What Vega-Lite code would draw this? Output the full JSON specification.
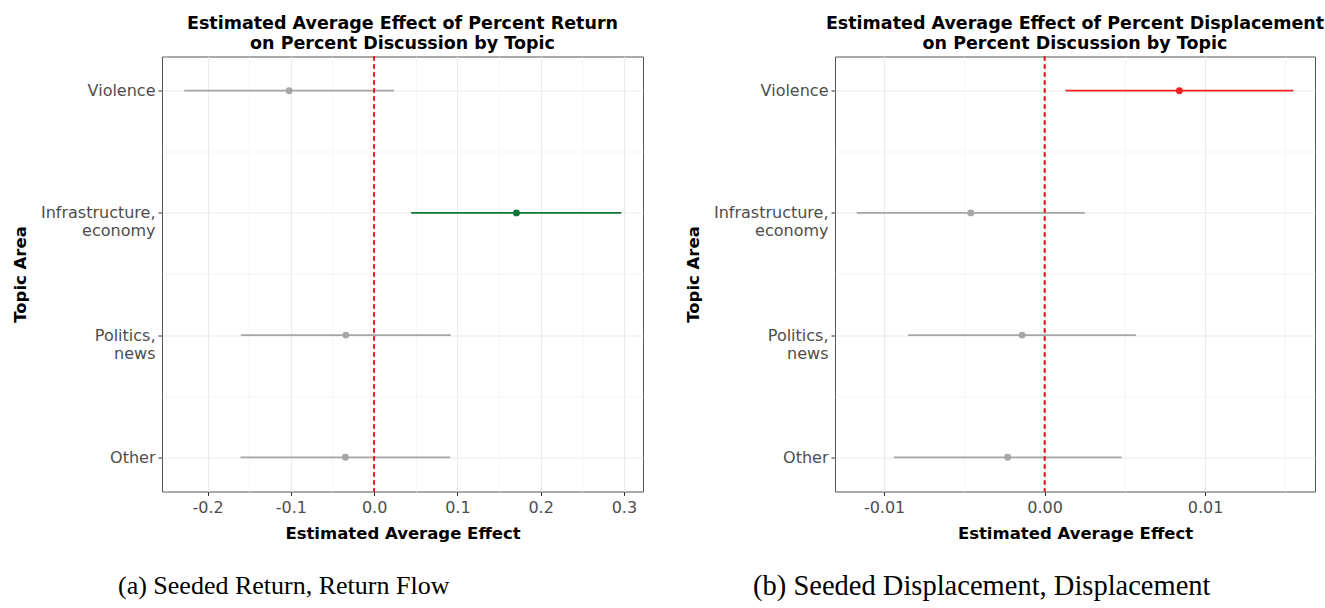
{
  "$schema": "https://vega.github.io/schema/vega-lite/v6.json",
  "background": "white",
  "padding": {"left": 11, "top": 14.5, "right": 0, "bottom": 0},
  "datasets": {
    "ret": [
      {"topic": "Violence", "est": -0.102, "lo": -0.228, "hi": 0.024, "sig": "ns"},
      {"topic": "Infrastructure, economy", "est": 0.171, "lo": 0.0445, "hi": 0.297, "sig": "sig"},
      {"topic": "Politics, news", "est": -0.034, "lo": -0.160, "hi": 0.092, "sig": "ns"},
      {"topic": "Other", "est": -0.0345, "lo": -0.1605, "hi": 0.0915, "sig": "ns"}
    ],
    "disp": [
      {"topic": "Violence", "est": 0.0084, "lo": 0.0013, "hi": 0.0155, "sig": "sig"},
      {"topic": "Infrastructure, economy", "est": -0.0046, "lo": -0.0117, "hi": 0.0025, "sig": "ns"},
      {"topic": "Politics, news", "est": -0.0014, "lo": -0.0085, "hi": 0.0057, "sig": "ns"},
      {"topic": "Other", "est": -0.0023, "lo": -0.0094, "hi": 0.0048, "sig": "ns"}
    ]
  },
  "hconcat": [
    {
      "title": {"text": "(a) Seeded Return, Return Flow", "orient": "bottom", "font": "Liberation Serif", "fontSize": 26, "fontWeight": "normal", "color": "black", "anchor": "middle", "dx": -44, "offset": 30},
      "vconcat": [
        {
          "width": 481,
          "height": 435,
          "title": {"text": ["Estimated Average Effect of Percent Return", "on Percent Discussion by Topic"], "fontSize": 17.5, "fontWeight": "bold", "lineHeight": 20, "anchor": "middle", "offset": 3, "color": "black"},
          "data": {"name": "ret"},
          "layer": [
            {
              "mark": {"type": "rule", "strokeWidth": 1.8},
              "encoding": {
                "x": {"field": "lo", "type": "quantitative", "scale": {"domain": [-0.2548, 0.323], "nice": false, "zero": false},
                  "axis": {"orient": "bottom", "values": [-0.2, -0.1, 0, 0.1, 0.2, 0.3], "labelExpr": "replace(format(datum.value, '.1f'), '−', '-')", "title": "Estimated Average Effect", "grid": true, "gridColor": "#ebebeb", "gridWidth": 1.1, "domain": false, "tickColor": "#333333", "tickSize": 4, "labelFontSize": 16, "labelColor": "#4d4d4d", "labelPadding": 3.5, "labelFlush": false, "labelOverlap": false, "titleFontSize": 16.5, "titleFontWeight": "bold", "titleColor": "black", "titlePadding": 10.5}},
                "x2": {"field": "hi"},
                "y": {"field": "topic", "type": "nominal", "scale": {"type": "point", "domain": ["Violence", "Infrastructure, economy", "Politics, news", "Other"], "padding": 0.28},
                  "axis": {"orient": "left", "grid": true, "gridColor": "#ebebeb", "gridWidth": 1.1, "domain": false, "tickColor": "#333333", "tickSize": 4, "labelFontSize": 16, "labelColor": "#4d4d4d", "labelPadding": 3, "labelLineHeight": 18, "labelExpr": "indexof(datum.label, ', ') > 0 ? [slice(datum.label, 0, indexof(datum.label, ', ') + 1), slice(datum.label, indexof(datum.label, ', ') + 2)] : datum.label", "title": "Topic Area", "titleFontSize": 16.5, "titleFontWeight": "bold", "titleColor": "black", "titlePadding": 12}},
                "color": {"field": "sig", "type": "nominal", "scale": {"domain": ["ns", "sig"], "range": ["#a6a6a6", "#11773a"]}, "legend": null}
              }
            },
            {
              "mark": {"type": "point", "filled": true, "size": 48, "opacity": 1},
              "encoding": {
                "x": {"field": "est", "type": "quantitative", "axis": {"orient": "top", "grid": true, "gridColor": "#f3f3f3", "gridWidth": 0.8, "labels": false, "ticks": false, "domain": false, "title": null, "values": [-0.25, -0.15, -0.05, 0.05, 0.15, 0.25]}},
                "y": {"field": "topic", "type": "nominal", "axis": {"orient": "right", "grid": true, "gridColor": "#f3f3f3", "gridWidth": 0.8, "labels": false, "ticks": false, "domain": false, "title": null, "values": ["Violence", "Infrastructure, economy", "Politics, news"], "tickOffset": 61}},
                "color": {"field": "sig", "type": "nominal", "legend": null}
              }
            },
            {
              "mark": {"type": "rule", "strokeDash": [4, 4], "color": "#e31a1c", "strokeWidth": 1.4},
              "encoding": {"x": {"datum": 0, "type": "quantitative", "axis": null}}
            }
          ],
          "resolve": {"axis": {"x": "independent", "y": "independent"}}
        }
      ]
    },
    {
      "title": {"text": "(b) Seeded Displacement, Displacement", "orient": "bottom", "font": "Liberation Serif", "fontSize": 28.5, "fontWeight": "normal", "color": "black", "anchor": "middle", "dx": -23, "offset": 29},
      "vconcat": [
        {
          "width": 480,
          "height": 435,
          "title": {"text": ["Estimated Average Effect of Percent Displacement", "on Percent Discussion by Topic"], "fontSize": 17.5, "fontWeight": "bold", "lineHeight": 20, "anchor": "middle", "offset": 3, "color": "black"},
          "data": {"name": "disp"},
          "layer": [
            {
              "mark": {"type": "rule", "strokeWidth": 1.8},
              "encoding": {
                "x": {"field": "lo", "type": "quantitative", "scale": {"domain": [-0.01306, 0.01685], "nice": false, "zero": false},
                  "axis": {"orient": "bottom", "values": [-0.01, 0, 0.01], "labelExpr": "replace(format(datum.value, '.2f'), '−', '-')", "title": "Estimated Average Effect", "grid": true, "gridColor": "#ebebeb", "gridWidth": 1.1, "domain": false, "tickColor": "#333333", "tickSize": 4, "labelFontSize": 16, "labelColor": "#4d4d4d", "labelPadding": 3.5, "labelFlush": false, "labelOverlap": false, "titleFontSize": 16.5, "titleFontWeight": "bold", "titleColor": "black", "titlePadding": 10.5}},
                "x2": {"field": "hi"},
                "y": {"field": "topic", "type": "nominal", "scale": {"type": "point", "domain": ["Violence", "Infrastructure, economy", "Politics, news", "Other"], "padding": 0.28},
                  "axis": {"orient": "left", "grid": true, "gridColor": "#ebebeb", "gridWidth": 1.1, "domain": false, "tickColor": "#333333", "tickSize": 4, "labelFontSize": 16, "labelColor": "#4d4d4d", "labelPadding": 3, "labelLineHeight": 18, "labelExpr": "indexof(datum.label, ', ') > 0 ? [slice(datum.label, 0, indexof(datum.label, ', ') + 1), slice(datum.label, indexof(datum.label, ', ') + 2)] : datum.label", "title": "Topic Area", "titleFontSize": 16.5, "titleFontWeight": "bold", "titleColor": "black", "titlePadding": 12}},
                "color": {"field": "sig", "type": "nominal", "scale": {"domain": ["ns", "sig"], "range": ["#a6a6a6", "#ee2222"]}, "legend": null}
              }
            },
            {
              "mark": {"type": "point", "filled": true, "size": 48, "opacity": 1},
              "encoding": {
                "x": {"field": "est", "type": "quantitative", "axis": {"orient": "top", "grid": true, "gridColor": "#f3f3f3", "gridWidth": 0.8, "labels": false, "ticks": false, "domain": false, "title": null, "values": [-0.005, 0.005, 0.015]}},
                "y": {"field": "topic", "type": "nominal", "axis": {"orient": "right", "grid": true, "gridColor": "#f3f3f3", "gridWidth": 0.8, "labels": false, "ticks": false, "domain": false, "title": null, "values": ["Violence", "Infrastructure, economy", "Politics, news"], "tickOffset": 61}},
                "color": {"field": "sig", "type": "nominal", "legend": null}
              }
            },
            {
              "mark": {"type": "rule", "strokeDash": [4, 4], "color": "#e31a1c", "strokeWidth": 1.4},
              "encoding": {"x": {"datum": 0, "type": "quantitative", "axis": null}}
            }
          ],
          "resolve": {"axis": {"x": "independent", "y": "independent"}}
        }
      ]
    }
  ],
  "spacing": 40,
  "resolve": {"scale": {"x": "independent", "color": "independent"}},
  "config": {
    "font": "DejaVu Sans",
    "view": {"stroke": "#555555", "strokeWidth": 1}
  }
}
